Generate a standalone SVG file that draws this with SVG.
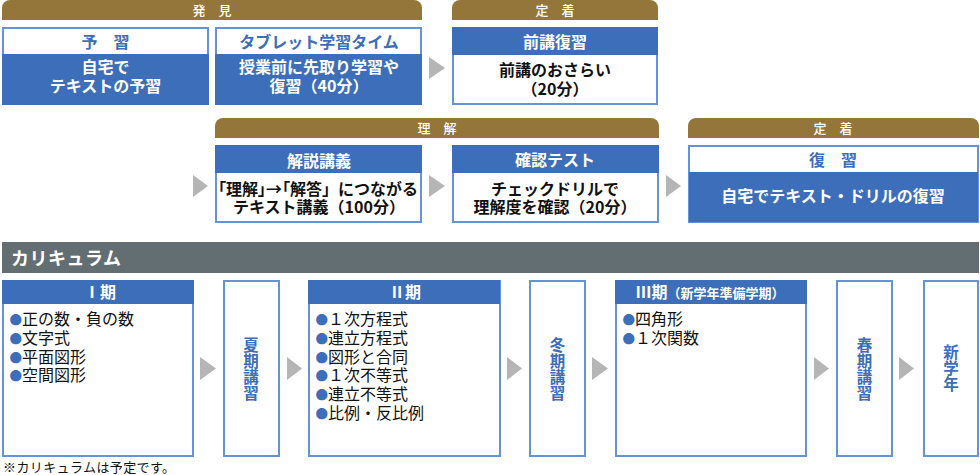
<svg xmlns="http://www.w3.org/2000/svg" width="980" height="475" viewBox="0 0 980 475">
<style>
text{font-family:"Noto Sans CJK JP","Noto Sans",sans-serif;font-size:16px;font-weight:700;text-anchor:middle}
.gold{fill:#94763a}
.lb{font-size:13px;fill:#fff;font-weight:500}
.w{fill:#fff}.b{fill:#3c6eba}.k{fill:#111}
.box{fill:#fff;stroke:#6692d6;stroke-width:2}
.bh{fill:#3c6eba}
.tri{fill:#b5b5b5}
.li{text-anchor:start;font-weight:400;fill:#111}
.bu{fill:#3c6eba;font-size:12.500px}
.v{writing-mode:vertical-rl;font-size:15.500px;letter-spacing:.5px;fill:#3c6eba}
.palt{font-feature-settings:'palt'}
</style>
<g id="connectors">
<polygon class="tri" points="429,57 445,68 429,79"/>
<polygon class="tri" points="193,175 208,186 193,197"/>
<polygon class="tri" points="429,175 445,186 429,197"/>
<polygon class="tri" points="666,175 681,186 666,197"/>
<polygon class="tri" points="200,357 216,368.500 200,380"/>
<polygon class="tri" points="287,357 302,368.500 287,380"/>
<polygon class="tri" points="507,357 522,368.500 507,380"/>
<polygon class="tri" points="592,357 608,368.500 592,380"/>
<polygon class="tri" points="814,357 829,368.500 814,380"/>
<polygon class="tri" points="899,357 914,368.500 899,380"/>
</g>
<g id="band-hakken"><path class="gold" d="M2 20V8a8 8 0 0 1 8-8H414a8 8 0 0 1 8 8V20Z"/><text class="lb" x="212" y="15">発　見</text></g>
<g id="band-teichaku1"><path class="gold" d="M452 20V8a8 8 0 0 1 8-8H650a8 8 0 0 1 8 8V20Z"/><text class="lb" x="555" y="15">定　着</text></g>
<g id="band-rikai"><path class="gold" d="M215 138V126a8 8 0 0 1 8-8H651a8 8 0 0 1 8 8V138Z"/><text class="lb" x="437" y="133">理　解</text></g>
<g id="band-teichaku2"><path class="gold" d="M688 138V126a8 8 0 0 1 8-8H971a8 8 0 0 1 8 8V138Z"/><text class="lb" x="833" y="133">定　着</text></g>
<g id="yoshu">
<rect class="box" x="3" y="28" width="205" height="76"/><rect class="bh" x="2" y="54" width="207" height="51"/>
<text class="b" x="105.500" y="48">予　習</text>
<text class="w" x="105.500" y="73">自宅で</text><text class="w" x="105.500" y="92">テキストの予習</text>
</g>
<g id="tablet">
<rect class="box" x="216" y="28" width="205" height="76"/><rect class="bh" x="215" y="54" width="207" height="51"/>
<text class="b" x="319" y="48">タブレット学習タイム</text>
<text class="w" x="319" y="73">授業前に先取り学習や</text><text class="w" x="319" y="92">復習（40分）</text>
</g>
<g id="zenko">
<rect class="box" x="453" y="28" width="204" height="76"/><rect class="bh" x="452" y="27" width="206" height="28"/>
<text class="w" x="555" y="48">前講復習</text>
<text class="k" x="555" y="76">前講のおさらい</text><text class="k" x="555" y="95">（20分）</text>
</g>
<g id="kaisetsu">
<rect class="box" x="216" y="146" width="205" height="76"/><rect class="bh" x="215" y="145" width="207" height="28"/>
<text class="w" x="319" y="167">解説講義</text>
<text class="k" x="318" y="195"><tspan class="palt">「理解」→「解答</tspan>」につながる</text><text class="k" x="319" y="213">テキスト講義（100分）</text>
</g>
<g id="kakunin">
<rect class="box" x="453" y="146" width="205" height="76"/><rect class="bh" x="452" y="145" width="207" height="28"/>
<text class="w" x="555" y="166">確認テスト</text>
<text class="k" x="555" y="195">チェックドリルで</text><text class="k" x="555" y="213">理解度を確認（20分）</text>
</g>
<g id="fukushu">
<rect class="box" x="689" y="146" width="289" height="76"/><rect class="bh" x="689" y="172" width="289" height="50"/>
<text class="b" x="833" y="166">復　習</text>
<text class="w" x="833" y="202">自宅でテキスト・ドリルの復習</text>
</g>
<g id="curriculum-bar"><rect x="2" y="242" width="977" height="31" fill="#636e72"/><text x="11" y="265" style="text-anchor:start;font-size:18px;letter-spacing:.5px" class="w">カリキュラム</text></g>
<g id="term1">
<rect class="box" x="3" y="281" width="190" height="175"/><rect class="bh" x="2" y="280" width="192" height="24"/>
<text class="w" x="100" y="298">Ⅰ期</text>
<text class="li" x="9.500" y="324.500"><tspan class="bu">●</tspan>正の数・負の数</text>
<text class="li" x="9.500" y="343.500"><tspan class="bu">●</tspan>文字式</text>
<text class="li" x="9.500" y="362.500"><tspan class="bu">●</tspan>平面図形</text>
<text class="li" x="9.500" y="380.500"><tspan class="bu">●</tspan>空間図形</text>
</g>
<g id="summer"><rect class="box" x="224" y="281" width="55" height="175"/>
<text class="v" x="251" y="369">夏期講習</text></g>
<g id="term2">
<rect class="box" x="309" y="281" width="191" height="175"/><rect class="bh" x="308" y="280" width="192" height="24"/>
<text class="w" x="405" y="298">Ⅱ期</text>
<text class="li" x="315.500" y="324.500"><tspan class="bu">●</tspan>１次方程式</text>
<text class="li" x="315.500" y="343.500"><tspan class="bu">●</tspan>連立方程式</text>
<text class="li" x="315.500" y="362.500"><tspan class="bu">●</tspan>図形と合同</text>
<text class="li" x="315.500" y="380.500"><tspan class="bu">●</tspan>１次不等式</text>
<text class="li" x="315.500" y="399.500"><tspan class="bu">●</tspan>連立不等式</text>
<text class="li" x="315.500" y="418.500"><tspan class="bu">●</tspan>比例・反比例</text>
</g>
<g id="winter"><rect class="box" x="530" y="281" width="55" height="175"/>
<text class="v" x="557.500" y="369">冬期講習</text></g>
<g id="term3">
<rect class="box" x="616" y="281" width="190" height="175"/><rect class="bh" x="615" y="280" width="192" height="24"/>
<text class="w" x="710" y="298"><tspan>Ⅲ期</tspan><tspan style="font-size:13px">（新学年準備学期）</tspan></text>
<text class="li" x="622.500" y="324.500"><tspan class="bu">●</tspan>四角形</text>
<text class="li" x="622.500" y="343.500"><tspan class="bu">●</tspan>１次関数</text>
</g>
<g id="spring"><rect class="box" x="837" y="281" width="55" height="175"/>
<text class="v" x="864.500" y="369">春期講習</text></g>
<g id="newyear"><rect class="box" x="924" y="281" width="54" height="175"/>
<text class="v" x="951" y="368">新学年</text></g>
<text x="3" y="472" style="text-anchor:start;font-size:13px;font-weight:400;letter-spacing:.4px" class="k">※カリキュラムは予定です。</text>
</svg>
